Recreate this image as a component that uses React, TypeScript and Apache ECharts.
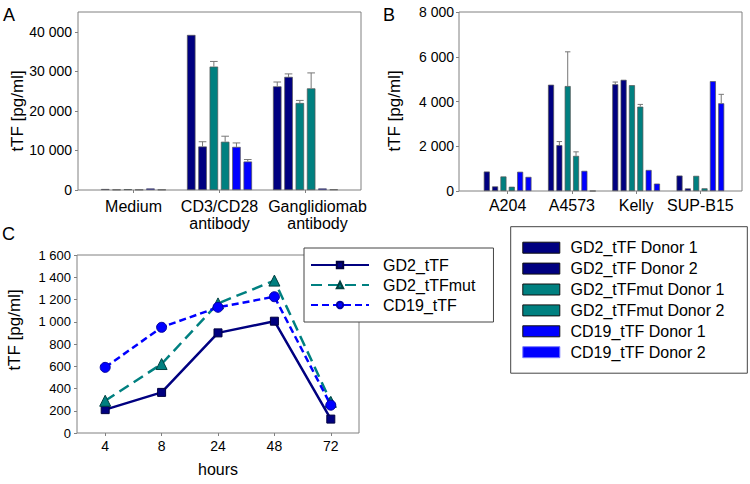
import React, { useEffect, useRef } from "react";
import * as echarts from "echarts";

// ---- Panel A data ----
const catsA = ["Medium", "CD3/CD28\nantibody", "Ganglidiomab\nantibody"];
const gd2D1A = [250, 39200, 26200];
const gd2D2A = [100, 11000, 28600];
const mutD1A = [200, 31200, 22000];
const mutD2A = [100, 12200, 25700];
const cd19D1A = [400, 10900, 400];
const cd19D2A = [100, 7200, 150];
const errGd2D1A = [0, 0, 1100];
const errGd2D2A = [0, 1200, 750];
const errMutD1A = [0, 1300, 650];
const errMutD2A = [0, 1400, 3900];
const errCd19D1A = [0, 1000, 0];
const errCd19D2A = [0, 500, 0];
const ticksA = [0, 10000, 20000, 30000, 40000];

// ---- Panel B data ----
const catsB = ["A204", "A4573", "Kelly", "SUP-B15"];
const gd2D1B = [870, 4750, 4770, 690];
const gd2D2B = [205, 2050, 4970, 115];
const mutD1B = [650, 4690, 4730, 677];
const mutD2B = [190, 1570, 3770, 120];
const cd19D1B = [860, 900, 940, 4910];
const cd19D2B = [630, 0, 330, 3920];
const errGd2D1B = [0, 0, 100, 0];
const errGd2D2B = [0, 160, 0, 0];
const errMutD1B = [0, 1530, 0, 0];
const errMutD2B = [0, 180, 100, 0];
const errCd19D1B = [0, 0, 0, 0];
const errCd19D2B = [0, 0, 0, 400];

// ---- Panel C data ----
const hours = ["4", "8", "24", "48", "72"];
const gd2C = [210, 365, 900, 1005, 125];
const mutC = [290, 620, 1165, 1370, 280];
const cd19C = [590, 950, 1130, 1225, 250];

const barNames = [
  "GD2_tTF Donor 1",
  "GD2_tTF Donor 2",
  "GD2_tTFmut Donor 1",
  "GD2_tTFmut Donor 2",
  "CD19_tTF Donor 1",
  "CD19_tTF Donor 2",
];
const lineNames = ["GD2_tTF", "GD2_tTFmut", "CD19_tTF"];

const NAVY = "#000080";
const TEAL = "#008080";
const BLUE = "#0000ff";
const barColors = [NAVY, NAVY, TEAL, TEAL, BLUE, BLUE];
const FONT = "'Liberation Sans', Arial, Helvetica, sans-serif";
const FRAME = "#808080";

const fmt = (v: number) => String(v).replace(/\B(?=(\d{3})+(?!\d))/g, " ");

function errorSeries(
  vals: number[][],
  errs: number[][],
  xIdx: number,
  yIdx: number,
  bw: number,
  gap: number
) {
  const data: number[][] = [];
  vals.forEach((arr, i) => {
    arr.forEach((v, j) => {
      if (errs[i][j] > 0) data.push([j, i, v, errs[i][j]]);
    });
  });
  const pitch = bw * (1 + gap);
  return {
    type: "custom",
    xAxisIndex: xIdx,
    yAxisIndex: yIdx,
    encode: { x: 0, y: 2 },
    z: 5,
    silent: true,
    data,
    renderItem: (params: any, api: any) => {
      const cat = api.value(0);
      const idx = api.value(1);
      const v = api.value(2);
      const e = api.value(3);
      const p0 = api.coord([cat, v]);
      const p1 = api.coord([cat, v + e]);
      const x = p0[0] + (idx - 2.5) * pitch;
      const cap = bw * 0.45;
      const st = { stroke: "#777", lineWidth: 1 };
      return {
        type: "group",
        children: [
          { type: "line", shape: { x1: x, y1: p0[1], x2: x, y2: p1[1] }, style: st },
          { type: "line", shape: { x1: x - cap, y1: p1[1], x2: x + cap, y2: p1[1] }, style: st },
        ],
      };
    },
  };
}

export default function App() {
  const ref = useRef<HTMLDivElement>(null);
  useEffect(() => {
    if (!ref.current) return;
    const chart = echarts.init(ref.current, undefined, { renderer: "svg" });

    const valsA = [gd2D1A, gd2D2A, mutD1A, mutD2A, cd19D1A, cd19D2A];
    const errsA = [errGd2D1A, errGd2D2A, errMutD1A, errMutD2A, errCd19D1A, errCd19D2A];
    const valsB = [gd2D1B, gd2D2B, mutD1B, mutD2B, cd19D1B, cd19D2B];
    const errsB = [errGd2D1B, errGd2D2B, errMutD1B, errMutD2B, errCd19D1B, errCd19D2B];

    const bwA = 8.5, gapA = 0.33;
    const bwB = 6, gapB = 0.39;

    const barSeries = (vals: number[][], xi: number, yi: number, bw: number, gap: number) =>
      vals.map((arr, i) => ({
        type: "bar",
        name: barNames[i],
        xAxisIndex: xi,
        yAxisIndex: yi,
        barWidth: bw,
        barGap: `${gap * 100}%`,
        data: arr,
        itemStyle: { color: barColors[i], borderColor: "#555", borderWidth: 0.7 },
      }));

    const yLabel = (size: number, margin: number) => ({
      fontSize: size,
      color: "#000",
      margin,
      formatter: (v: number) => fmt(v),
      fontFamily: FONT,
    });
    const tick = { show: true, length: 3, lineStyle: { color: FRAME } };

    const option: any = {
      animation: false,
      textStyle: { fontFamily: FONT },
      grid: [
        { left: 78, top: 12, width: 283, height: 178, show: true, borderColor: FRAME, borderWidth: 1 },
        { left: 90.5, top: 12, width: 258, height: 178 },
        { left: 459, top: 12, width: 283, height: 179, show: true, borderColor: FRAME, borderWidth: 1 },
        { left: 475.5, top: 12, width: 257, height: 179 },
        { left: 77, top: 255, width: 282, height: 178, show: true, borderColor: FRAME, borderWidth: 1 },
      ],
      xAxis: [
        { gridIndex: 0, type: "value", min: 0, max: 1, show: false },
        {
          gridIndex: 1,
          type: "category",
          data: catsA.map((c, i) =>
            i === 2 ? { value: c, textStyle: { padding: [0, 0, 0, 24] } } : c
          ),
          axisLine: { show: false },
          axisTick: { ...tick, alignWithLabel: true },
          axisLabel: { interval: 0, fontSize: 16, color: "#000", margin: 8, lineHeight: 17, fontFamily: FONT },
        },
        { gridIndex: 2, type: "value", min: 0, max: 1, show: false },
        {
          gridIndex: 3,
          type: "category",
          data: catsB,
          axisLine: { show: false },
          axisTick: { ...tick, alignWithLabel: true },
          axisLabel: { interval: 0, fontSize: 16, color: "#000", margin: 6, fontFamily: FONT },
        },
        {
          gridIndex: 4,
          type: "category",
          data: hours,
          boundaryGap: true,
          axisLine: { show: false },
          axisTick: { ...tick, alignWithLabel: true },
          axisLabel: { interval: 0, fontSize: 14, color: "#000", margin: 6, fontFamily: FONT },
          name: "hours",
          nameLocation: "middle",
          nameGap: 28,
          nameTextStyle: { fontSize: 16, color: "#000", fontFamily: FONT },
        },
      ],
      yAxis: [
        {
          gridIndex: 0,
          type: "value",
          min: 0,
          max: 45000,
          axisLine: { show: false },
          axisTick: { ...tick, customValues: ticksA },
          splitLine: { show: false },
          axisLabel: { ...yLabel(14, 6), customValues: ticksA },
        },
        { gridIndex: 1, type: "value", min: 0, max: 45000, show: false, splitLine: { show: false } },
        {
          gridIndex: 2,
          type: "value",
          min: 0,
          max: 8000,
          interval: 2000,
          axisLine: { show: false },
          axisTick: tick,
          splitLine: { show: false },
          axisLabel: yLabel(14, 5),
        },
        { gridIndex: 3, type: "value", min: 0, max: 8000, show: false, splitLine: { show: false } },
        {
          gridIndex: 4,
          type: "value",
          min: 0,
          max: 1600,
          interval: 200,
          axisLine: { show: false },
          axisTick: tick,
          splitLine: { show: false },
          axisLabel: yLabel(13, 6),
        },
      ],
      legend: [
        {
          data: lineNames,
          orient: "vertical",
          left: 304,
          top: 248,
          padding: [9, 18, 9, 6],
          itemWidth: 58,
          itemHeight: 8,
          itemGap: 4,
          selectedMode: false,
          backgroundColor: "#fff",
          borderColor: "#444",
          borderWidth: 1,
          textStyle: { fontSize: 16, lineHeight: 16, color: "#000", padding: [0, 0, 0, 9], fontFamily: FONT },
        },
        {
          data: barNames.map((n, i) =>
            i === 5 ? { name: n, itemStyle: { borderColor: "#7777ff" } } : { name: n }
          ),
          orient: "vertical",
          left: 510.7,
          top: 226.7,
          padding: [13, 23, 13, 11.6],
          itemWidth: 37,
          itemHeight: 11,
          itemGap: 4.9,
          icon: "rect",
          selectedMode: false,
          backgroundColor: "#fff",
          borderColor: "#444",
          borderWidth: 1,
          itemStyle: { borderColor: "#111", borderWidth: 1 },
          textStyle: { fontSize: 16, lineHeight: 16, color: "#000", padding: [0, 0, 0, 5.7], fontFamily: FONT },
        },
      ],
      graphic: [
        { type: "text", x: 3, y: 6, style: { text: "A", font: `18px ${FONT}`, fill: "#000" } },
        { type: "text", x: 383, y: 6, style: { text: "B", font: `18px ${FONT}`, fill: "#000" } },
        { type: "text", x: 2, y: 225, style: { text: "C", font: `18px ${FONT}`, fill: "#000" } },
        {
          type: "text",
          x: 17,
          y: 111,
          rotation: Math.PI / 2,
          style: { text: "tTF [pg/ml]", font: `17px ${FONT}`, fill: "#000", textAlign: "center", textVerticalAlign: "middle" },
        },
        {
          type: "text",
          x: 394,
          y: 111,
          rotation: Math.PI / 2,
          style: { text: "tTF [pg/ml]", font: `17px ${FONT}`, fill: "#000", textAlign: "center", textVerticalAlign: "middle" },
        },
        {
          type: "text",
          x: 14,
          y: 330,
          rotation: Math.PI / 2,
          style: { text: "tTF [pg/ml]", font: `17px ${FONT}`, fill: "#000", textAlign: "center", textVerticalAlign: "middle" },
        },
      ],
      series: [
        ...barSeries(valsA, 1, 1, bwA, gapA),
        errorSeries(valsA, errsA, 1, 1, bwA, gapA),
        ...barSeries(valsB, 3, 3, bwB, gapB),
        errorSeries(valsB, errsB, 3, 3, bwB, gapB),
        {
          type: "line",
          name: "GD2_tTF",
          xAxisIndex: 4,
          yAxisIndex: 4,
          data: gd2C,
          symbol: "rect",
          symbolSize: 8,
          lineStyle: { color: NAVY, width: 2.5, type: "solid" },
          itemStyle: { color: NAVY, borderColor: "#000040", borderWidth: 1 },
        },
        {
          type: "line",
          name: "GD2_tTFmut",
          xAxisIndex: 4,
          yAxisIndex: 4,
          data: mutC,
          symbol: "triangle",
          symbolSize: 11,
          lineStyle: { color: TEAL, width: 2.5, type: [11, 6] },
          itemStyle: { color: TEAL, borderColor: "#004040", borderWidth: 1 },
        },
        {
          type: "line",
          name: "CD19_tTF",
          xAxisIndex: 4,
          yAxisIndex: 4,
          data: cd19C,
          symbol: "circle",
          symbolSize: 10,
          lineStyle: { color: BLUE, width: 2.5, type: [7, 4] },
          itemStyle: { color: BLUE, borderColor: "#0000a0", borderWidth: 1 },
        },
      ],
    };
    chart.setOption(option);
    return () => chart.dispose();
  }, []);
  return (
    <div
      ref={ref}
      style={{ position: "fixed", left: 0, top: 0, width: 750, height: 484, background: "#fff" }}
    />
  );
}
